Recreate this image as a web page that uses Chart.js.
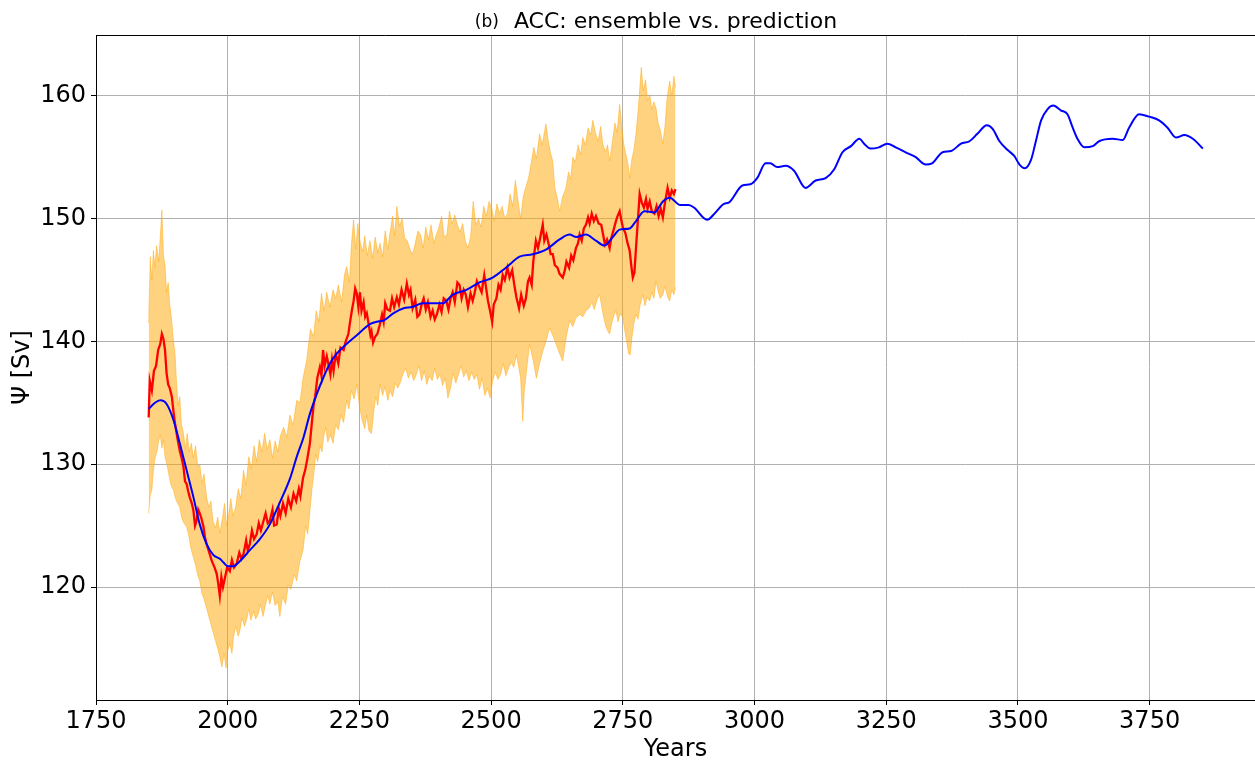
<!DOCTYPE html>
<html lang="en">
<head>
  <meta charset="UTF-8">
  <title>ACC: ensemble vs. prediction</title>
  <script src="https://cdn.jsdelivr.net/npm/chart.js"></script>
  <style>
    body { margin: 0; background: #fff; }
  </style>
</head>
<body>
  <canvas id="accChart" width="1255" height="764"></canvas>

  <script>
    // ensemble mean (red)
    const ensYears = [1850,1852,1856,1860,1864,1868,1872,1875,1878,1881,1884,1887,1890,1894,1897,1900,1905,1909,1912,1916,1919,1922,1925,1928,1932,1935,1938,1941,1944,1947,1950,1954,1957,1960,1965,1970,1975,1979,1982,1985,1988,1991,1995,1999,2004,2008,2012,2017,2022,2026,2030,2035,2038,2042,2046,2050,2055,2059,2063,2068,2072,2076,2080,2085,2088,2093,2097,2100,2105,2110,2115,2120,2125,2130,2135,2138,2143,2147,2151,2156,2160,2163,2166,2170,2175,2178,2181,2184,2188,2191,2195,2198,2201,2205,2210,2214,2220,2224,2229,2233,2236,2239,2242,2245,2248,2251,2254,2258,2261,2264,2268,2271,2273,2276,2280,2284,2289,2293,2296,2299,2303,2308,2312,2316,2321,2325,2330,2335,2340,2344,2347,2351,2356,2360,2364,2368,2372,2376,2380,2385,2389,2393,2397,2402,2406,2410,2415,2419,2423,2427,2431,2436,2440,2444,2448,2452,2456,2461,2465,2469,2473,2478,2482,2487,2490,2494,2498,2502,2505,2510,2514,2518,2522,2526,2531,2535,2540,2544,2548,2553,2557,2562,2566,2570,2573,2577,2580,2585,2589,2593,2598,2601,2605,2610,2613,2617,2621,2626,2630,2636,2640,2643,2648,2652,2656,2661,2665,2668,2672,2676,2680,2684,2687,2691,2695,2699,2704,2709,2713,2716,2720,2725,2728,2732,2737,2740,2744,2747,2750,2755,2759,2763,2766,2769,2772,2775,2778,2782,2786,2790,2794,2797,2801,2805,2810,2814,2818,2822,2826,2830,2835,2839,2843,2847,2850];
    const ensMean = [133.8,136.8,136.0,137.6,138.0,139.3,139.8,140.6,140.2,139.3,137.4,136.5,136.2,135.5,134.3,133.3,132.0,131.1,130.6,129.8,128.6,128.4,127.8,127.3,126.8,126.2,125.0,125.4,126.3,126.0,125.6,124.9,124.0,123.5,122.8,122.1,121.6,121.1,120.3,119.3,120.8,120.0,120.8,121.6,121.3,122.2,121.6,121.9,122.8,122.3,122.7,123.8,123.0,123.5,124.6,123.9,124.3,125.2,124.6,125.4,126.0,125.2,125.4,126.3,125.0,125.1,126.4,125.8,126.8,126.0,127.2,126.5,127.6,127.0,128.0,127.4,128.9,129.5,130.4,131.7,133.5,134.8,135.5,137.0,137.9,137.2,139.3,138.0,138.8,138.2,137.3,138.5,137.6,139.0,138.2,139.5,139.3,140.0,140.6,141.8,142.6,143.3,144.3,143.9,142.8,144.0,142.5,143.2,142.0,142.3,141.3,140.5,140.8,139.9,140.4,140.6,141.4,142.2,141.6,143.1,142.6,142.5,143.5,142.8,143.6,143.0,144.2,143.4,144.7,143.8,144.2,142.7,143.4,142.0,142.2,143.0,143.5,142.6,143.2,142.0,142.5,141.8,142.2,143.0,142.4,143.5,143.3,142.6,143.5,144.0,143.2,144.8,144.6,143.5,144.2,143.8,142.8,143.9,143.3,144.0,144.9,144.4,144.0,145.4,144.5,143.3,142.5,141.6,143.0,143.5,144.6,144.2,145.4,145.0,146.0,145.2,145.8,144.6,143.6,142.7,143.8,142.9,143.5,144.9,145.2,144.6,146.5,148.2,147.6,148.4,149.5,148.2,148.7,147.8,147.1,147.1,146.2,146.0,145.5,145.2,145.8,146.5,146.0,147.0,146.6,147.6,148.0,148.7,148.2,149.2,149.5,150.1,149.6,150.4,149.8,150.2,149.6,149.5,148.6,147.9,148.3,147.6,148.4,149.0,149.8,150.2,150.6,149.9,149.3,148.8,148.0,147.4,146.2,145.2,145.6,147.6,149.5,152.0,151.3,150.9,151.6,150.8,151.4,150.6,150.4,151.0,150.2,150.8,150.1,151.3,152.5,151.7,152.3,152.0,152.4];

    // ensemble spread, upper edge
    const upperYears = [1850,1853,1856,1859,1862,1865,1869,1872,1875,1878,1881,1884,1887,1890,1893,1897,1900,1903,1906,1909,1912,1916,1920,1923,1927,1931,1935,1939,1943,1947,1951,1955,1960,1964,1968,1972,1977,1981,1985,1990,1994,1998,2002,2006,2010,2015,2020,2025,2030,2035,2040,2045,2050,2055,2060,2065,2070,2075,2080,2085,2090,2095,2100,2106,2112,2118,2124,2131,2137,2143,2150,2157,2163,2168,2173,2178,2183,2188,2194,2200,2205,2210,2216,2222,2226,2231,2235,2239,2243,2247,2251,2256,2260,2265,2270,2275,2280,2285,2289,2294,2299,2304,2308,2313,2317,2321,2326,2331,2336,2341,2346,2351,2356,2361,2366,2371,2376,2381,2386,2391,2396,2401,2406,2411,2416,2421,2426,2431,2436,2441,2446,2451,2456,2461,2466,2471,2476,2481,2486,2491,2496,2501,2506,2511,2516,2521,2526,2531,2536,2541,2546,2551,2556,2561,2566,2571,2576,2581,2586,2592,2597,2604,2609,2613,2617,2621,2626,2630,2636,2642,2647,2651,2655,2660,2665,2670,2674,2679,2684,2689,2693,2698,2703,2708,2712,2717,2721,2725,2730,2735,2739,2744,2748,2752,2756,2760,2763,2767,2771,2775,2779,2782,2785,2789,2793,2797,2801,2805,2809,2813,2817,2821,2826,2830,2834,2839,2843,2847,2850];
    const upperValues = [141.5,146.9,145.0,147.4,146.0,147.8,146.5,148.5,150.7,147.0,146.2,144.0,144.8,143.0,142.0,140.1,139.0,136.5,134.8,135.5,133.3,132.5,131.2,132.5,131.0,131.7,130.5,131.5,129.8,130.0,128.5,129.2,127.3,126.5,127.0,125.4,124.8,125.7,124.4,125.6,126.8,125.0,126.0,127.2,125.8,126.5,128.0,127.2,129.5,128.3,130.6,129.6,131.5,130.2,132.0,131.0,132.5,131.2,132.0,130.5,131.9,131.0,132.3,133.0,132.2,134.0,133.2,135.2,135.0,137.0,138.5,141.0,140.4,142.5,141.6,143.9,142.5,144.0,142.8,144.2,143.5,144.6,143.2,145.5,146.1,144.8,148.0,149.9,147.5,149.6,148.2,147.3,148.6,147.0,148.2,146.8,148.5,147.2,148.0,146.9,149.0,147.5,148.8,150.2,148.6,151.0,149.4,150.0,148.4,148.2,147.5,147.1,148.0,149.0,148.7,147.6,149.3,148.3,149.5,148.0,148.7,149.3,150.2,148.5,148.7,150.6,149.6,150.3,149.5,148.9,149.6,148.2,147.6,148.5,151.4,149.5,150.0,149.3,151.0,150.2,151.4,150.9,149.8,151.2,150.4,151.0,150.0,150.4,152.0,151.0,153.1,151.5,150.0,151.8,152.6,153.3,154.5,155.8,154.9,156.9,156.0,157.7,156.2,155.3,154.7,152.5,151.6,150.6,151.8,152.5,153.8,153.2,155.0,154.6,156.0,155.2,156.6,156.0,157.4,156.8,158.0,157.0,156.3,157.5,156.1,155.4,156.0,154.7,156.2,157.8,157.0,159.3,157.5,156.0,155.2,154.4,153.3,154.8,155.6,156.9,158.8,160.5,162.3,160.4,161.3,159.6,160.1,158.9,159.5,159.0,157.8,157.2,156.1,157.5,159.8,161.2,160.0,161.6,160.7];

    // ensemble spread, lower edge
    const lowerYears = [1850,1853,1856,1859,1862,1866,1869,1872,1875,1878,1881,1885,1889,1893,1897,1901,1905,1909,1913,1917,1922,1926,1930,1935,1939,1943,1947,1951,1955,1960,1964,1968,1973,1977,1981,1985,1989,1993,1997,2000,2004,2008,2011,2015,2020,2023,2027,2032,2036,2040,2044,2049,2053,2058,2062,2067,2072,2076,2080,2085,2090,2095,2099,2104,2110,2115,2120,2126,2131,2137,2143,2148,2152,2156,2160,2163,2167,2171,2175,2179,2182,2186,2190,2195,2200,2205,2210,2215,2220,2226,2230,2235,2240,2245,2250,2255,2260,2264,2268,2273,2277,2281,2285,2289,2294,2299,2304,2308,2313,2318,2323,2328,2333,2338,2343,2348,2353,2358,2363,2368,2373,2378,2383,2388,2393,2398,2403,2408,2413,2418,2423,2428,2433,2438,2443,2448,2453,2458,2463,2468,2473,2478,2483,2488,2493,2498,2503,2508,2513,2518,2523,2528,2533,2538,2543,2548,2552,2556,2560,2563,2567,2573,2580,2586,2592,2598,2604,2611,2617,2623,2630,2636,2642,2649,2655,2661,2668,2674,2680,2686,2691,2696,2701,2706,2710,2714,2718,2722,2725,2729,2733,2737,2741,2745,2750,2754,2758,2761,2764,2767,2771,2775,2779,2783,2788,2792,2796,2801,2805,2809,2813,2817,2821,2826,2830,2835,2839,2843,2847,2850];
    const lowerValues = [126.0,127.5,127.9,129.5,130.5,131.1,131.9,132.4,131.3,132.0,130.6,129.9,129.0,128.2,127.9,127.2,126.8,126.5,125.6,125.2,124.9,124.2,123.2,122.4,121.8,121.0,120.5,119.5,119.0,118.3,117.6,117.0,116.2,115.6,115.0,114.3,113.5,114.6,113.4,114.8,115.4,114.6,115.9,116.8,116.0,116.4,117.5,116.8,117.4,118.2,117.3,118.0,117.4,117.8,118.6,117.6,118.6,119.3,118.6,119.6,118.5,118.8,117.6,119.2,118.6,120.2,119.8,121.0,120.5,122.1,123.0,125.0,124.3,126.2,128.0,129.0,130.8,130.2,131.5,131.0,132.2,133.0,131.8,132.4,131.7,133.2,132.8,134.0,133.4,135.2,134.5,136.0,135.3,136.5,134.8,133.6,132.9,134.0,132.7,132.5,134.2,135.5,134.8,136.5,135.6,136.3,135.2,136.0,135.5,136.6,136.2,136.7,137.4,137.8,137.0,137.5,136.8,137.3,138.0,136.8,137.6,136.5,137.2,136.8,137.8,136.9,137.3,136.4,137.0,135.4,136.2,137.4,136.6,137.3,138.0,137.1,137.6,136.8,137.5,136.9,137.3,136.1,137.0,135.6,136.2,135.4,136.8,137.5,136.9,137.3,138.2,137.2,137.8,138.3,137.9,138.9,138.0,137.0,133.5,136.0,137.5,139.8,138.4,137.0,138.2,139.2,140.0,141.1,140.5,139.8,139.0,138.4,140.2,141.7,141.2,141.9,142.2,142.0,142.5,142.7,143.2,142.6,143.4,143.8,142.8,141.9,141.2,140.8,140.6,141.5,142.1,142.5,141.6,142.3,141.9,140.8,139.8,139.0,138.9,140.2,141.5,142.2,141.8,143.0,143.8,142.9,143.6,143.3,144.0,143.5,144.9,144.1,143.5,143.8,144.5,143.6,143.3,144.2,143.8,144.4];

    // prediction (blue)
    const predYears = [1850,1862,1872,1884,1897,1909,1922,1935,1947,1960,1973,1985,1992,2000,2011,2023,2042,2061,2080,2099,2118,2131,2144,2156,2169,2182,2194,2207,2226,2245,2270,2283,2296,2315,2334,2350,2370,2390,2408,2427,2453,2478,2503,2528,2554,2579,2605,2630,2649,2662,2680,2699,2715,2731,2744,2763,2775,2791,2810,2826,2839,2859,2875,2885,2910,2926,2942,2951,2977,2992,3005,3021,3030,3043,3059,3075,3097,3116,3135,3151,3167,3183,3199,3208,3220,3236,3252,3268,3287,3306,3325,3337,3357,3373,3392,3408,3423,3441,3452,3465,3480,3493,3503,3513,3525,3534,3544,3556,3567,3582,3594,3604,3613,3626,3642,3654,3680,3699,3711,3730,3749,3768,3784,3800,3816,3832,3851];
    const predValues = [134.5,135.0,135.2,134.9,133.6,131.7,129.5,127.3,125.1,123.5,122.6,122.3,122.0,121.7,121.7,122.1,123.0,123.9,125.1,126.9,128.8,130.6,132.2,134.1,135.7,137.1,138.2,139.0,139.8,140.5,141.4,141.6,141.7,142.3,142.7,142.8,143.1,143.1,143.1,143.8,144.2,144.8,145.2,146.0,146.9,147.1,147.5,148.3,148.7,148.5,148.7,148.2,147.8,148.5,149.1,149.2,149.8,150.6,150.5,151.4,151.7,151.1,151.1,150.9,149.9,150.5,151.2,151.3,152.7,152.8,153.3,154.5,154.5,154.2,154.3,153.9,152.5,153.1,153.3,154.0,155.4,155.9,156.5,156.1,155.7,155.8,156.1,155.8,155.4,155.0,154.4,154.5,155.4,155.5,156.1,156.3,156.9,157.6,157.3,156.3,155.6,155.1,154.4,154.1,154.8,156.3,158.0,158.9,159.2,158.8,158.5,157.4,156.5,155.8,155.9,156.3,156.5,156.4,157.4,158.5,158.3,158.0,157.4,156.6,156.8,156.5,155.7];

    const xTicks = [1750, 2000, 2250, 2500, 2750, 3000, 3250, 3500, 3750];
    const yTicks = [120, 130, 140, 150, 160];

    function toPoints(xs, ys) {
      return xs.map((x, i) => ({ x: x, y: ys[i] }));
    }

    const boxAndTitle = {
      id: 'boxAndTitle',
      afterDraw(chart) {
        const { ctx, chartArea } = chart;
        ctx.save();
        ctx.strokeStyle = '#000';
        ctx.lineWidth = 1;
        ctx.beginPath();
        ctx.moveTo(chartArea.left, chartArea.top + 0.5);
        ctx.lineTo(chartArea.right, chartArea.top + 0.5);
        ctx.stroke();
        ctx.fillStyle = '#000';
        ctx.textBaseline = 'alphabetic';
        ctx.textAlign = 'center';
        ctx.font = '22px "DejaVu Sans"';
        const cx = (chartArea.left + chartArea.right) / 2;
        ctx.fillText('ACC: ensemble vs. prediction', cx, 28);
        const half = ctx.measureText('ACC: ensemble vs. prediction').width / 2;
        ctx.textAlign = 'right';
        ctx.font = '17px "DejaVu Sans"';
        ctx.fillText('(b)', cx - half - 15, 27);
        ctx.restore();
      }
    };

    const ctx = document.getElementById('accChart').getContext('2d');
    new Chart(ctx, {
      type: 'line',
      data: {
        datasets: [
          {
            label: 'prediction',
            data: toPoints(predYears, predValues),
            borderColor: '#0000ff',
            borderWidth: 2,
            pointRadius: 0,
            tension: 0.4,
            cubicInterpolationMode: 'monotone',
            fill: false,
            order: 0
          },
          {
            label: 'ensemble mean',
            data: toPoints(ensYears, ensMean),
            borderColor: '#ff0000',
            borderWidth: 2.3,
            pointRadius: 0,
            tension: 0,
            fill: false,
            order: 1
          },
          {
            label: 'ensemble max',
            data: toPoints(upperYears, upperValues),
            borderColor: 'rgba(255, 165, 0, 0.45)',
            backgroundColor: 'rgba(255, 165, 0, 0.5)',
            borderWidth: 1,
            pointRadius: 0,
            tension: 0,
            fill: '+1',
            order: 2
          },
          {
            label: 'ensemble min',
            data: toPoints(lowerYears, lowerValues),
            borderColor: 'rgba(255, 165, 0, 0.45)',
            borderWidth: 1,
            pointRadius: 0,
            tension: 0,
            fill: false,
            order: 3
          }
        ]
      },
      options: {
        responsive: false,
        animation: false,
        events: [],
        layout: { padding: { top: 35, left: 0, right: 0, bottom: 0 } },
        plugins: {
          legend: { display: false },
          tooltip: { enabled: false },
          title: { display: false }
        },
        scales: {
          x: {
            type: 'linear',
            min: 1750,
            max: 3950,
            afterBuildTicks: (scale) => { scale.ticks = xTicks.map(v => ({ value: v })); },
            afterFit: (scale) => { scale.height = 64; },
            ticks: {
              color: '#000',
              font: { family: 'DejaVu Sans', size: 24 },
              padding: 2,
              maxRotation: 0,
              callback: (value) => String(value)
            },
            grid: { color: '#b0b0b0', lineWidth: 1, tickLength: 5, tickColor: '#000' },
            border: { display: true, color: '#000', width: 1 },
            title: {
              display: true,
              text: 'Years',
              color: '#000',
              font: { family: 'DejaVu Sans', size: 24 },
              padding: { top: 0, bottom: 0 }
            }
          },
          y: {
            min: 110.8,
            max: 164.95,
            afterBuildTicks: (scale) => { scale.ticks = yTicks.map(v => ({ value: v })); },
            afterFit: (scale) => { scale.width = 96; },
            ticks: {
              color: '#000',
              font: { family: 'DejaVu Sans', size: 24 },
              padding: 5,
              callback: (value) => String(value)
            },
            grid: { color: '#b0b0b0', lineWidth: 1, tickLength: 5, tickColor: '#000' },
            border: { display: true, color: '#000', width: 1 },
            title: {
              display: true,
              text: 'Ψ [Sv]',
              color: '#000',
              font: { family: 'DejaVu Sans', size: 24 },
              padding: { top: 8, bottom: 0 }
            }
          }
        }
      },
      plugins: [boxAndTitle]
    });
  </script>
</body>
</html>
